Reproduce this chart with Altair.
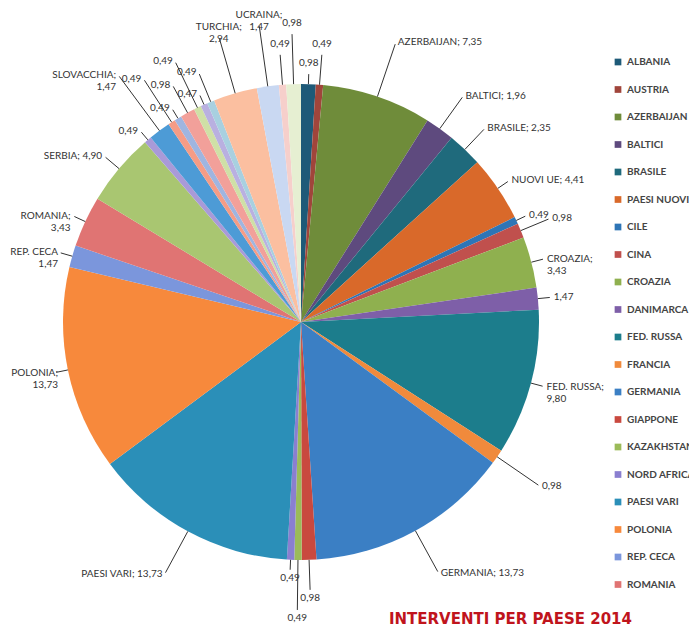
import altair as alt
import pandas as pd

names = ["ALBANIA", "AUSTRIA", "AZERBAIJAN", "BALTICI", "BRASILE", "PAESI NUOVI UE",
         "CILE", "CINA", "CROAZIA", "DANIMARCA", "FED. RUSSA", "FRANCIA", "GERMANIA",
         "GIAPPONE", "KAZAKHSTAN", "NORD AFRICA", "PAESI VARI", "POLONIA", "REP. CECA",
         "ROMANIA", "SERBIA", "SINGAPORE", "SLOVACCHIA", "SLOVENIA", "SPAGNA",
         "SUD AFRICA", "SVEZIA", "SVIZZERA", "TUNISIA", "TURCHIA", "UCRAINA",
         "UNGHERIA", "USA"]
values = [0.98, 0.49, 7.35, 1.96, 2.35, 4.41, 0.49, 0.98, 3.43, 1.47, 9.80, 0.98, 13.73,
          0.98, 0.49, 0.49, 13.73, 13.73, 1.47, 3.43, 4.90, 0.49, 1.47, 0.49, 0.49,
          0.98, 0.49, 0.47, 0.49, 2.94, 1.47, 0.49, 0.98]
label_prefix = ["", "", "AZERBAIJAN; ", "BALTICI; ", "BRASILE; ", "NUOVI UE; ",
                "", "", "CROAZIA;\n", "", "FED. RUSSA;\n", "", "GERMANIA; ",
                "", "", "", "PAESI VARI; ", "POLONIA;\n", "REP. CECA\n",
                "ROMANIA;\n", "SERBIA; ", "", "SLOVACCHIA;\n", "", "",
                "", "", "", "", "TURCHIA;\n", "UCRAINA;\n", "", ""]
colors = ["#1e5a78", "#a0453b", "#6f8c3a", "#5e4a7e", "#1f6a7c", "#d9692a",
          "#2e75b6", "#c0504d", "#8fb04f", "#7e5fa8", "#1c7d8c", "#f08a3c",
          "#3b7fc4", "#c9493f", "#9bbb59", "#8a7fd0", "#2b8fb8", "#f7893c",
          "#7b96dc", "#e07473", "#a9c671", "#a99ad8", "#4d9bd6", "#f59c86",
          "#9fb5e0", "#f2a09a", "#cfe0a6", "#b9b0e0", "#a8d0e0", "#fbbfa0",
          "#c9d8f2", "#f6cfcb", "#e6efd2"]
legend_names = names[:20]
title_text = "INTERVENTI PER PAESE 2014"

df = pd.DataFrame({"idx": list(range(len(names))), "name": names,
                   "value": values, "prefix": label_prefix})

CX, CY, R = 301, 322, 238
FONT = "Lato"

pie = alt.Chart(df).mark_arc(radius=R, strokeWidth=0).encode(
    theta=alt.Theta("value:Q", stack=True),
    order=alt.Order("idx:Q"),
    color=alt.Color("name:N",
                    scale=alt.Scale(domain=names, range=colors),
                    legend=alt.Legend(title=None, orient="none", legendX=613, legendY=57,
                                      values=legend_names, symbolType="square",
                                      symbolSize=45, symbolStrokeWidth=0,
                                      labelFont=FONT, labelFontSize=10,
                                      labelFontWeight="bold", labelColor="#444444",
                                      rowPadding=17.5, labelLimit=300)),
    x=alt.value(CX), y=alt.value(CY),
)

base = alt.Chart(df).transform_joinaggregate(
    total="sum(value)"
).transform_window(
    cum="sum(value)", sort=[alt.SortField("idx", order="ascending")], frame=[None, 0]
).transform_calculate(
    mid="2*PI*(datum.cum - datum.value/2)/datum.total"
).transform_calculate(
    s="sin(datum.mid)"
).transform_calculate(
    c="cos(datum.mid)"
).transform_calculate(
    d=("datum.value < 1 ? 12 + 20*(datum.idx % 3) : "
       "14 + 50*max(0, (abs(datum.c) - 0.6)/0.4) + (datum.s < -0.4 && datum.c > 0.7 ? 30 : 0)")
).transform_calculate(
    x0=f"{CX} + {R}*datum.s"
).transform_calculate(
    y0=f"{CY} - {R}*datum.c"
).transform_calculate(
    x1=f"{CX} + ({R} + datum.d - 2)*datum.s"
).transform_calculate(
    y1=f"{CY} - ({R} + datum.d - 2)*datum.c"
).transform_calculate(
    lx=f"{CX} + ({R} + datum.d)*datum.s"
).transform_calculate(
    lx="datum.s < -0.3 ? max(datum.lx, 60) : datum.lx"
).transform_calculate(
    ly=f"{CY} - ({R} + datum.d)*datum.c"
).transform_calculate(
    txt="datum.prefix + replace(format(datum.value, '.2f'), '.', ',')"
)

lines = base.mark_rule(color="#333333", strokeWidth=1).encode(
    x=alt.X("x0:Q", scale=None), y=alt.Y("y0:Q", scale=None),
    x2="x1:Q", y2="y1:Q",
)

def text_layer(filt, align, baseline, dx=0, dy=0):
    return base.transform_filter(filt).mark_text(
        align=align, baseline=baseline, dx=dx, dy=dy, font=FONT, fontSize=10,
        color="#333333", lineBreak="\n",
    ).encode(
        x=alt.X("lx:Q", scale=None), y=alt.Y("ly:Q", scale=None), text="txt:N"
    )

t_right = text_layer("datum.s > 0.3", "left", "middle", dx=2)
t_left = text_layer("datum.s < -0.3", "right", "middle", dx=-2)
t_top = text_layer("abs(datum.s) <= 0.3 && datum.c > 0", "center", "bottom", dy=-4)
t_bot = text_layer("abs(datum.s) <= 0.3 && datum.c <= 0", "center", "top", dy=1)

title = alt.Chart(pd.DataFrame({"t": [title_text]})).mark_text(
    align="right", baseline="alphabetic", font="DejaVu Sans", fontSize=15,
    fontWeight="bold", color="#c0141c"
).encode(text="t:N", x=alt.value(632), y=alt.value(624))

chart = alt.layer(pie, lines, t_right, t_left, t_top, t_bot, title).properties(
    width=689, height=636, padding=0,
    autosize=alt.AutoSizeParams(type="none"),
    background="white",
).configure_view(strokeWidth=0)

chart.save("out.html", embed_options={"renderer": "svg", "actions": False})
